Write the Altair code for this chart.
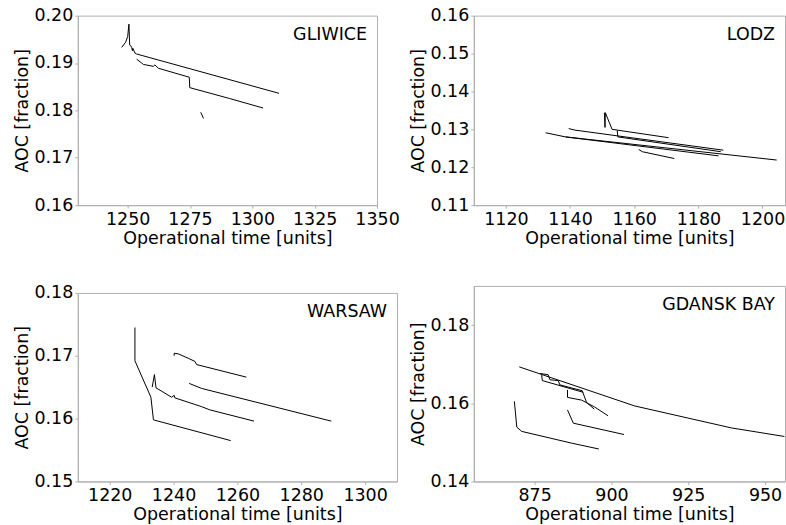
import altair as alt
import pandas as pd

FONT = "DejaVu Sans"
FS = 17.5
GRAY = "#b0b0b0"

# ---------------- GLIWICE ----------------
GLI_A_X = [1247.6, 1249.2, 1250.0, 1250.5, 1250.8, 1251.3, 1251.6, 1251.9, 1252.1, 1252.9, 1253.6, 1310.7]
GLI_A_Y = [0.1933, 0.1944, 0.1956, 0.1982, 0.1938, 0.1936, 0.1933, 0.1926, 0.1931, 0.1921, 0.1919, 0.1836]
GLI_B_X = [1253.6, 1255.6, 1256.3, 1260.3, 1260.9, 1262.3, 1274.7, 1274.9, 1290.9, 1304.3]
GLI_B_Y = [0.1908, 0.1900, 0.1897, 0.1893, 0.1896, 0.1889, 0.1870, 0.1848, 0.1825, 0.1805]
GLI_C_X = [1279.3, 1280.4]
GLI_C_Y = [0.1796, 0.1783]

# ---------------- LODZ ----------------
LOD_A_X = [1132.4, 1138.6, 1186.3]
LOD_A_Y = [0.1291, 0.1280, 0.1230]
LOD_L_X = [1138.6, 1204.4]
LOD_L_Y = [0.1280, 0.1219]
LOD_B_X = [1139.6, 1141.5, 1187.8]
LOD_B_Y = [0.1302, 0.1298, 0.1245]
LOD_D_X = [1150.7, 1150.9, 1151.0, 1153.1, 1170.7]
LOD_D_Y = [0.1344, 0.1305, 0.1344, 0.1300, 0.1278]
LOD_E_X = [1154.7, 1154.9, 1187.0]
LOD_E_Y = [0.1297, 0.1280, 0.1241]
LOD_F_X = [1161.4, 1162.5, 1172.5]
LOD_F_Y = [0.1247, 0.1241, 0.1223]

# ---------------- WARSAW ----------------
WAR_1_X = [1227.9, 1227.9, 1232.9, 1233.7, 1257.9]
WAR_1_Y = [0.1745, 0.1692, 0.1634, 0.1598, 0.1565]
WAR_2_X = [1240.2, 1240.2, 1241.5, 1244.6, 1246.7, 1247.2, 1262.8]
WAR_2_Y = [0.1700, 0.1704, 0.1703, 0.1696, 0.1691, 0.1686, 0.1666]
WAR_3_X = [1233.3, 1234.0, 1234.5, 1239.4, 1240.2, 1240.4, 1248.8, 1251.3, 1265.2]
WAR_3_Y = [0.1650, 0.1670, 0.1649, 0.1634, 0.1637, 0.1633, 0.1619, 0.1614, 0.1596]
WAR_4_X = [1244.9, 1248.8, 1289.4]
WAR_4_Y = [0.1656, 0.1648, 0.1596]

# ---------------- GDANSK BAY ----------------
GDA_1_X = [870.0, 907.6, 939.0, 956.3]
GDA_1_Y = [0.1693, 0.1593, 0.1537, 0.1515]
GDA_2_X = [876.8, 879.4, 880.0, 882.7, 883.2, 890.5, 891.9, 894.4]
GDA_2_Y = [0.1676, 0.1673, 0.1660, 0.1658, 0.1647, 0.1632, 0.1602, 0.1585]
GDA_3_X = [877.3, 877.5, 890.8]
GDA_3_Y = [0.1672, 0.1658, 0.1628]
GDA_4_X = [885.7, 885.7, 890.3, 894.4, 898.9]
GDA_4_Y = [0.1634, 0.1615, 0.1608, 0.1591, 0.1568]
GDA_5_X = [885.7, 887.6, 904.1]
GDA_5_Y = [0.1583, 0.1549, 0.1520]
GDA_6_X = [868.4, 869.2, 870.8, 887.0, 895.9]
GDA_6_Y = [0.1605, 0.1539, 0.1528, 0.1498, 0.1483]

# axis settings
GLI_XDOM, GLI_YDOM = [1230, 1350], [0.16, 0.20]
GLI_XT, GLI_YT = [1250, 1275, 1300, 1325, 1350], [0.16, 0.17, 0.18, 0.19, 0.20]
LOD_XDOM, LOD_YDOM = [1110, 1207], [0.11, 0.16]
LOD_XT, LOD_YT = [1120, 1140, 1160, 1180, 1200], [0.11, 0.12, 0.13, 0.14, 0.15, 0.16]
WAR_XDOM, WAR_YDOM = [1210, 1310], [0.15, 0.18]
WAR_XT, WAR_YT = [1220, 1240, 1260, 1280, 1300], [0.15, 0.16, 0.17, 0.18]
GDA_XDOM, GDA_YDOM = [855.2, 956.5], [0.14, 0.19]
GDA_XT, GDA_YT = [875, 900, 925, 950], [0.14, 0.16, 0.18]


def frame(series):
    rows = []
    for s, (xs, ys) in enumerate(series):
        for i, (x, y) in enumerate(zip(xs, ys)):
            rows.append({"x": x, "y": y, "s": s, "i": i})
    return pd.DataFrame(rows)


def panel(series, label, xdom, ydom, xt, yt, w, h):
    df = frame(series)
    lines = alt.Chart(df).mark_line(color="black", strokeWidth=1, clip=True).encode(
        x=alt.X("x:Q", scale=alt.Scale(domain=xdom, nice=False, zero=False),
                axis=alt.Axis(values=xt, format="d", title="Operational time [units]")),
        y=alt.Y("y:Q", scale=alt.Scale(domain=ydom, nice=False, zero=False),
                axis=alt.Axis(values=yt, format=".2f", title="AOC [fraction]")),
        detail="s:N",
        order="i:Q",
    )
    txt = alt.Chart(pd.DataFrame({"t": [label]})).mark_text(
        align="right", baseline="alphabetic", fontSize=FS, font=FONT, color="black"
    ).encode(x=alt.value(w - 10), y=alt.value(24), text="t:N")
    return alt.layer(lines, txt).properties(width=w, height=h)


p1 = panel([(GLI_A_X, GLI_A_Y), (GLI_B_X, GLI_B_Y), (GLI_C_X, GLI_C_Y)],
           "GLIWICE", GLI_XDOM, GLI_YDOM, GLI_XT, GLI_YT, 300, 190)
p2 = panel([(LOD_A_X, LOD_A_Y), (LOD_L_X, LOD_L_Y), (LOD_B_X, LOD_B_Y), (LOD_D_X, LOD_D_Y),
            (LOD_E_X, LOD_E_Y), (LOD_F_X, LOD_F_Y)],
           "LODZ", LOD_XDOM, LOD_YDOM, LOD_XT, LOD_YT, 312, 190)
p3 = panel([(WAR_1_X, WAR_1_Y), (WAR_2_X, WAR_2_Y), (WAR_3_X, WAR_3_Y), (WAR_4_X, WAR_4_Y)],
           "WARSAW", WAR_XDOM, WAR_YDOM, WAR_XT, WAR_YT, 320, 189)
p4 = panel([(GDA_1_X, GDA_1_Y), (GDA_2_X, GDA_2_Y), (GDA_3_X, GDA_3_Y), (GDA_4_X, GDA_4_Y),
            (GDA_5_X, GDA_5_Y), (GDA_6_X, GDA_6_Y)],
           "GDANSK BAY", GDA_XDOM, GDA_YDOM, GDA_XT, GDA_YT, 312, 196)

col1 = alt.vconcat(p1, p3, spacing=88, bounds="flush")
col2 = alt.vconcat(p2, p4, spacing=81, bounds="flush")

# outer flush layout treats nested columns as zero-width, so the gap includes column 1's width
chart = alt.hconcat(col1, col2, spacing=397, bounds="flush").properties(
    padding={"left": 13, "top": 5, "right": 0, "bottom": 0},
    background="white",
).configure_axis(
    labelFont=FONT, titleFont=FONT, labelFontSize=FS, titleFontSize=FS,
    labelColor="black", titleColor="black", titleFontWeight="normal",
    domainColor=GRAY, tickColor=GRAY, tickSize=3, labelPadding=2, titlePadding=2,
    grid=False, labelFlush=False, labelOverlap=False,
).configure_view(stroke=GRAY)

chart.save("out.html", embed_options={"renderer": "svg", "actions": False})
